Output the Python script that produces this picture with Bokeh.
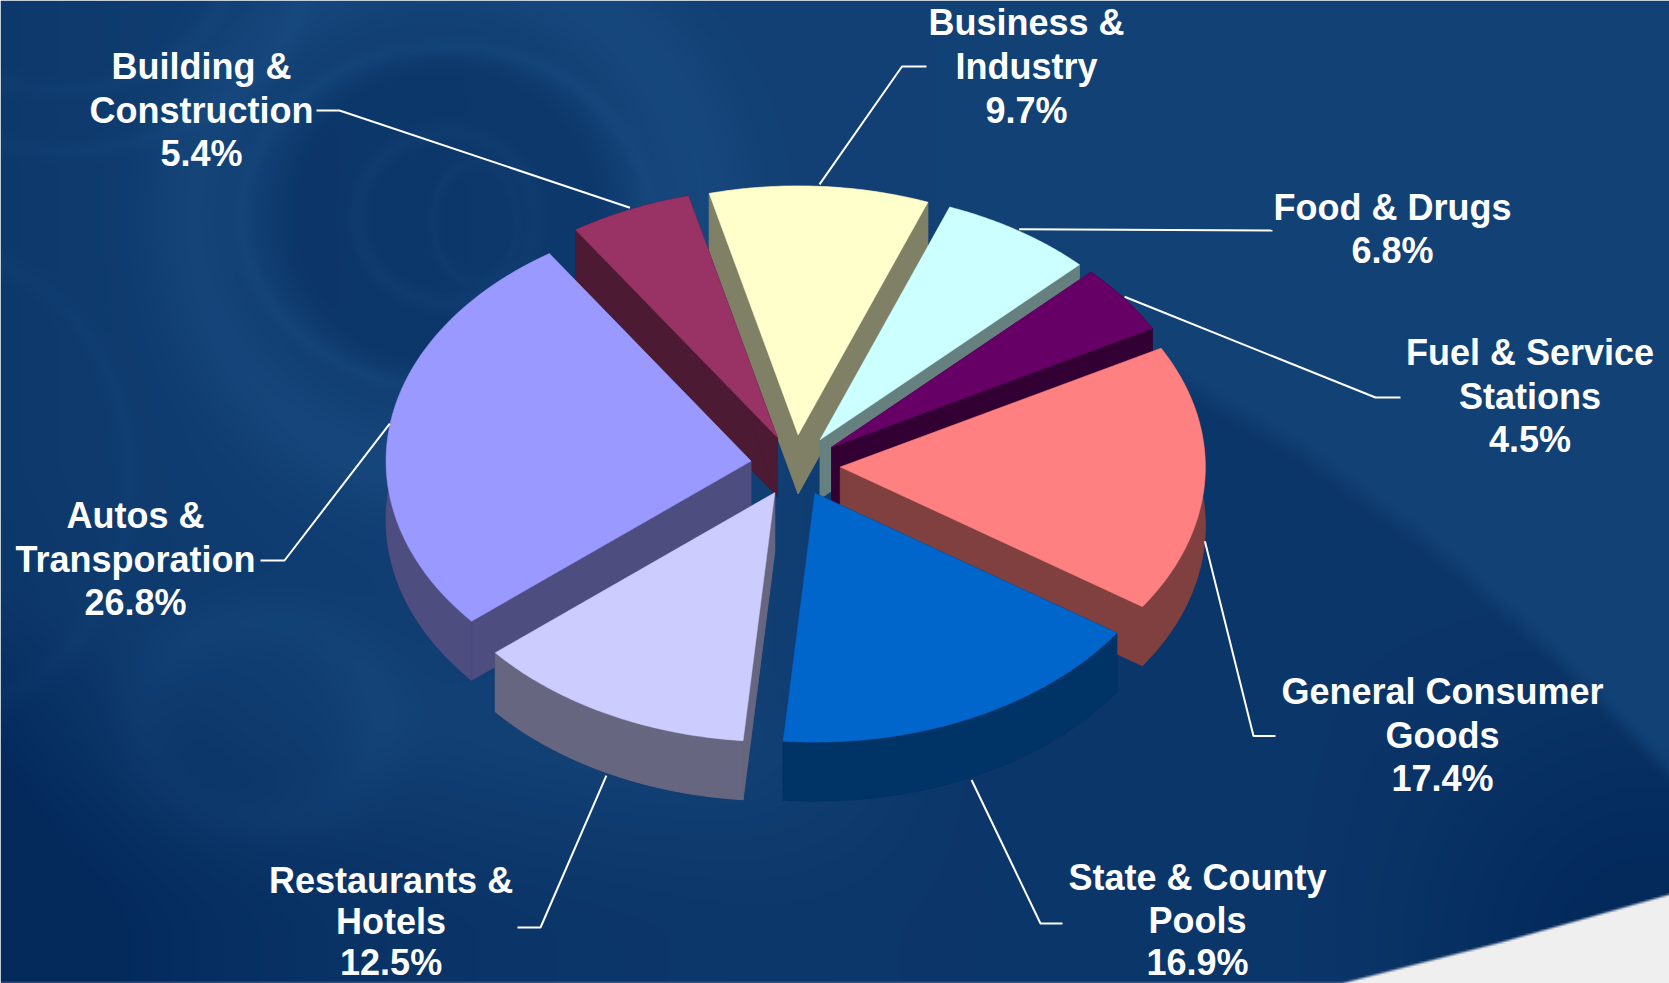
import numpy as np
from bokeh.core.properties import value
from bokeh.embed import file_html
from bokeh.models import ColumnDataSource, Range1d
from bokeh.plotting import figure
from bokeh.resources import INLINE

# ---- data -------------------------------------------------------------
label_lines = [
    ["General Consumer", "Goods"],
    ["State & County", "Pools"],
    ["Restaurants &", "Hotels"],
    ["Autos &", "Transporation"],
    ["Building &", "Construction"],
    ["Business &", "Industry"],
    ["Food & Drugs"],
    ["Fuel & Service", "Stations"],
]
shares = [17.4, 16.9, 12.5, 26.8, 5.4, 9.7, 6.8, 4.5]
top_colors = ["#FF8080", "#0066CC", "#CCCCFF", "#9999FF", "#993366", "#FFFFCC", "#CCFFFF", "#660066"]
side_colors = ["#804040", "#003366", "#666680", "#4D4D80", "#4D1A33", "#808066", "#668080", "#330033"]

# ---- layout (in 1669x983 picture pixels, y down) ------------------------
W, H = 1669, 983
CX, CY, RX, RY = 795.0, 465.0, 365.0, 249.0
EXPLODE, DEPTH, START_DEG = 0.123, 59.0, 61.5
label_x = [1442, 1197, 390.6, 135, 201, 1026, 1392, 1529.5]
label_top = [691, 877, 880, 515, 66, 22.4, 206.5, 352]
label_line_h = [43.6, 42.5, 41, 43.6, 43.6, 43.6, 43.6, 43.6]
elbows = [(1253, 735.5, 1275), (1040, 923, 1062), (540, 927, 517), (284, 560, 260),
          (339, 110, 316), (901.5, 66, 926), (1272, 230, 1272), (1375, 397, 1400)]

# ---- background ---------------------------------------------------------
def sstep(v):
    v = np.clip(v, 0, 1)
    return v * v * (3 - 2 * v)

def ring(X, Y, cx, cy, rx, ry, r0, w):
    r = np.sqrt(((X - cx) / rx) ** 2 + ((Y - cy) / ry) ** 2)
    return np.exp(-((r - r0) / w) ** 2)

def background():
    bw, bh = W // 2, H // 2
    X, Y = np.meshgrid((np.arange(bw) + .5) * W / bw, (np.arange(bh) + .5) * H / bh)
    light = np.array([0x17, 0x48, 0x7D], float)
    dark = np.array([0x04, 0x2A, 0x5C], float)
    t = 0.22 + 0.30 * np.exp(-X / 300.0)
    t += 0.45 * np.exp(-X / 260.0) * sstep((Y - 450) / 350)
    t += 0.28 * sstep((Y - 720) / 220)
    # swirl on the upper left
    r = np.sqrt(((X - 446) / 1.05) ** 2 + (Y - 217) ** 2)
    t += 0.25 * (1 - sstep((r - 140) / 40))
    t -= 0.25 * ring(X, Y, 446, 217, 1, 1, 255, 50)
    t -= 0.14 * ring(X, Y, 446, 217, 1.05, 1, 85, 9)
    t -= 0.10 * ring(X, Y, 475, 222, .7, 1, 60, 7)
    t -= 0.14 * ring(X, Y, 446, 217, 1.2, 1, 170, 9)
    t -= 0.12 * ring(X, Y, 60, -40, 1.3, 1, 130, 9)
    t -= 0.12 * ring(X, Y, 60, -40, 1.3, 1, 190, 9)
    t -= 0.10 * ring(X, Y, -60, 480, 1, 1.2, 190, 10)
    t -= 0.15 * ring(X, Y, 260, 720, 1.2, 1, 100, 30)
    # the big swoosh on the right
    xs = [1050, 1183, 1299, 1427, 1555, 1669]
    ys = [300, 367, 434, 525, 638, 755]
    yu = np.interp(X, xs, ys)
    mask = sstep((X - 700) / 300)
    swoosh = sstep((Y - yu) / 35.0) * mask
    inside = 0.58 + 0.45 * sstep((X - 1250) / 400) * sstep((Y - 550) / 400)
    t = t * (1 - swoosh) + inside * swoosh
    # bottom arc band, lighter above it
    yl = np.interp(X, [0, 300, 650, 850, 1150, 1410], [660, 750, 815, 835, 820, 797])
    t -= 0.10 * np.exp(-((Y - yl + 60) / 70) ** 2) * sstep((1000 - X) / 500)
    t = np.clip(t, 0, 1)[..., None]
    rgb = light * (1 - t) + dark * t
    # white corner
    yc = np.interp(X, [1341, 1500, 1669], [983, 942, 894])
    white = sstep((Y - yc) / 4 + .5)[..., None]
    rgb = rgb * (1 - white) + np.array([0xEF, 0xEF, 0xEF], float) * white
    img = np.zeros((bh, bw), dtype=np.uint32)
    view = img.view(dtype=np.uint8).reshape((bh, bw, 4))
    view[..., :3] = np.clip(rgb, 0, 255).astype(np.uint8)
    view[..., 3] = 255
    return img[::-1]

# ---- pie geometry, from the shares --------------------------------------
shares_a = np.array(shares, float)
angle_ends = START_DEG + np.cumsum(shares_a) * 3.6
angle_starts = angle_ends - shares_a * 3.6
mids = np.radians((angle_starts + angle_ends) / 2)

def flip(y):
    return H - np.asarray(y, float)

p = figure(width=W, height=H, output_backend="svg", toolbar_location=None,
           x_range=Range1d(0, W), y_range=Range1d(0, H), min_border=0, outline_line_color=None)
p.axis.visible = False
p.grid.visible = False
p.image_rgba(image=[background()], x=0, y=0, dw=W, dh=H)

faces_x, faces_y, faces_c = [], [], []
def face(xs, ys, c):
    faces_x.append(list(xs))
    faces_y.append(list(flip(ys)))
    faces_c.append(c)

for i in sorted(range(len(shares)), key=lambda k: -np.cos(mids[k])):
    th = np.radians(np.linspace(angle_starts[i], angle_ends[i], 60))
    ax = CX + EXPLODE * RX * np.sin(mids[i])
    ay = CY - EXPLODE * RY * np.cos(mids[i])
    rx = ax + RX * np.sin(th)
    ry = ay - RY * np.cos(th)
    sc = side_colors[i]
    face(np.r_[ax, rx], np.r_[ay, ry] + DEPTH, sc)
    face([ax, rx[0], rx[0], ax], [ay, ry[0], ry[0] + DEPTH, ay + DEPTH], sc)
    face([ax, rx[-1], rx[-1], ax], [ay, ry[-1], ry[-1] + DEPTH, ay + DEPTH], sc)
    face(np.r_[rx, rx[::-1]], np.r_[ry, ry[::-1] + DEPTH], sc)
    face(np.r_[ax, rx], np.r_[ay, ry], top_colors[i])

p.patches("xs", "ys", fill_color="c", line_color="c", line_width=0.5,
          source=ColumnDataSource(dict(xs=faces_x, ys=faces_y, c=faces_c)))

# ---- leader lines: from the rim at the middle of each slice to an elbow --
for i, (ex, ey, tx) in enumerate(elbows):
    s, c = np.sin(mids[i]), np.cos(mids[i])
    gx = CX + (1 + EXPLODE) * RX * s
    gy = CY - (1 + EXPLODE) * RY * c + (DEPTH + 3 if c < 0.05 else -2)
    p.line([gx, ex, tx], list(flip([gy, ey, ey])), line_color="white", line_width=2)

# ---- labels -------------------------------------------------------------
tx, ty, tt = [], [], []
for i, lines in enumerate(label_lines):
    for j, txt in enumerate(lines + [f"{shares[i]}%"]):
        tx.append(label_x[i])
        ty.append(H - (label_top[i] + j * label_line_h[i]))
        tt.append(txt)
p.text("x", "y", text="t", source=ColumnDataSource(dict(x=tx, y=ty, t=tt)),
       text_font=value("Liberation Sans"), text_font_style="bold", text_font_size=value("36px"),
       text_color="white", text_align="center", text_baseline="middle")

open("out.html", "w").write(file_html(p, INLINE))
